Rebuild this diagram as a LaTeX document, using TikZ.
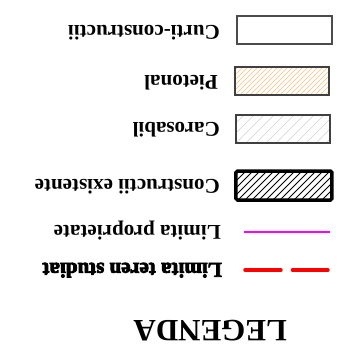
\documentclass[tikz,border=0pt]{standalone}
\usepackage{fontspec}
\setmainfont{Liberation Serif}
\newfontfamily\heavyfont[FakeBold=4]{Liberation Serif Bold}
\definecolor{propmag}{RGB}{255,0,255}
\definecolor{terenred}{RGB}{255,0,0}
\definecolor{pietorange}{RGB}{255,190,120}
\begin{document}
\begin{tikzpicture}[x=1pt,y=1pt,
  lbl/.style={rotate=180,anchor=base west,inner sep=0pt,font=\fontsize{21}{24}\selectfont\bfseries},
  swatch/.style={draw=black!75,line width=1.2pt}]
\useasboundingbox (0,0) rectangle (351,360);
% Box 1 - Curti-constructii
\draw[swatch,draw=black!70] (237,316) rectangle (332,344);
\node[lbl] (t1) at (220,335) {Curti-constructii};
% Box 2 - Pietonal
\begin{scope}
\clip (235,265) rectangle (329,293);
\foreach \i in {-40,-35,...,100} \draw[pietorange,line width=0.7pt] (235+\i,265) -- ++(28,28);
\end{scope}
\draw[swatch] (235,265) rectangle (329,293);
\node[lbl] (t2) at (218,285) {Pietonal};
% Box 3 - Carosabil
\begin{scope}
\clip (236,217) rectangle (330,245);
\foreach \i in {-40,-30,...,100} \draw[black!18,line width=0.6pt] (236+\i,217) -- ++(28,28);
\end{scope}
\draw[swatch] (236,217) rectangle (330,245);
\node[lbl] (t3) at (220,237) {Carosabil};
% Box 4 - Constructii existente
\begin{scope}
\clip (236,160) rectangle (332,189);
\foreach \i in {-40,-33,...,100} \draw[black,line width=0.8pt] (236+\i,160) -- ++(29,29);
\end{scope}
\draw[black,line width=3.5pt,rounded corners=1.5pt] (236,160) rectangle (332,189);
\node[lbl] (t4) at (220,181) {Constructii existente};
% Limita proprietate
\coordinate (m1) at (244,128);
\coordinate (m2) at (330,128);
\draw[propmag,line width=1.6pt] (m1) -- (m2);
\node[lbl] (t5) at (221,135) {Limita proprietate};
% Limita teren studiat
\coordinate (r1) at (245,90);
\coordinate (r2) at (328,90);
\draw[terenred,line width=3.5pt,line cap=round,dash pattern=on 36pt off 11.5pt] (r1) -- (r2);
\node[lbl,font=\fontsize{21}{24}\heavyfont] (t6) at (222,97) {Limita teren studiat};
% LEGENDA
\node[lbl,font=\fontsize{31}{34}\selectfont\bfseries] (t7) at (287,40) {LEGENDA};
\end{tikzpicture}
\end{document}
